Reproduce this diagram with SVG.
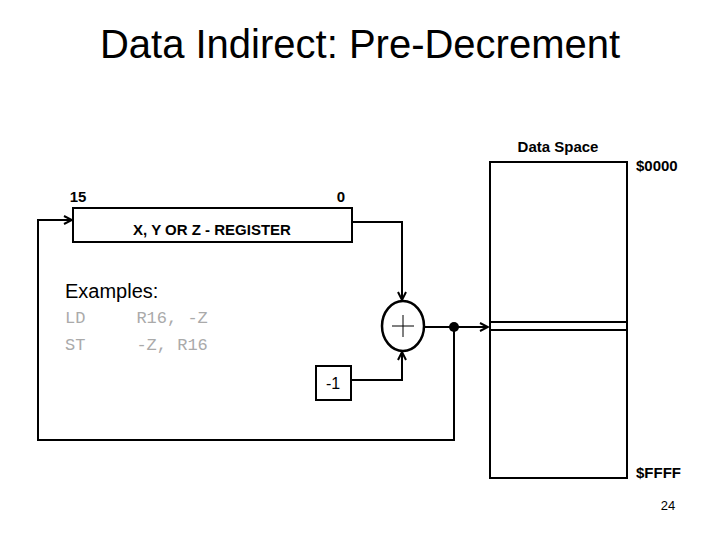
<svg xmlns="http://www.w3.org/2000/svg" width="720" height="540" viewBox="0 0 720 540">
<defs>
<style>
.t{font-family:"Liberation Sans",Arial,sans-serif;fill:#000}
.b{font-family:"Liberation Sans",Arial,sans-serif;font-weight:bold;fill:#000}
.m{font-family:"Liberation Mono","Courier New",monospace;fill:#aaa;font-size:17px;white-space:pre}
.ln{fill:none;stroke:#000;stroke-width:2}
.box{fill:#fff;stroke:#000;stroke-width:2}
</style>
<marker id="ar" viewBox="0 0 10 10" refX="9" refY="5" markerWidth="10" markerHeight="10" markerUnits="userSpaceOnUse" orient="auto">
<path d="M1,1 L9,5 L1,9" fill="none" stroke="#000" stroke-width="2"/>
</marker>
</defs>
<rect width="720" height="540" fill="#fff"/>
<text class="t" x="360" y="58" font-size="40" text-anchor="middle">Data Indirect: Pre-Decrement</text>

<g id="connectors">
<polyline class="ln" stroke-width="3" points="454,327 454,440 38,440 38,220 72,220" marker-end="url(#ar)"/>
<polyline class="ln" points="352,222 402,222 402,300" marker-end="url(#ar)"/>
<polyline class="ln" points="351,380 402,380 402,352" marker-end="url(#ar)"/>
<line class="ln" x1="424" y1="327" x2="488" y2="327" marker-end="url(#ar)"/>
<circle cx="454" cy="327" r="5" fill="#000"/>
</g>

<g id="register">
<rect class="box" x="73" y="208" width="279" height="34"/>
<text class="b" x="212" y="235" font-size="15" text-anchor="middle">X, Y OR Z - REGISTER</text>
<text class="b" x="78" y="202" font-size="15" text-anchor="middle">15</text>
<text class="b" x="341" y="202" font-size="15" text-anchor="middle">0</text>
</g>

<g id="adder">
<ellipse cx="403" cy="326" rx="21" ry="25" fill="#fff" stroke="#000" stroke-width="2.5"/>
<line x1="392" y1="326" x2="414" y2="326" stroke="#000" stroke-width="1"/>
<line x1="403" y1="315" x2="403" y2="337" stroke="#000" stroke-width="1"/>
</g>

<g id="minus1">
<rect class="box" x="316" y="366" width="35" height="34"/>
<text class="t" x="333" y="389" font-size="16" text-anchor="middle">-1</text>
</g>

<g id="dataspace">
<rect class="box" x="490" y="162" width="137" height="316"/>
<line x1="490" y1="322" x2="627" y2="322" stroke="#000" stroke-width="2"/>
<line x1="490" y1="330" x2="627" y2="330" stroke="#000" stroke-width="2"/>
<text class="b" x="558" y="152" font-size="15" text-anchor="middle">Data Space</text>
<text class="b" x="636" y="171" font-size="15">$0000</text>
<text class="b" x="636" y="478" font-size="15">$FFFF</text>
</g>

<g id="examples">
<text class="t" x="65" y="298" font-size="20" fill="#222">Examples:</text>
<text class="m" x="65" y="323">LD     R16, -Z</text>
<text class="m" x="65" y="350">ST     -Z, R16</text>
</g>

<text class="t" x="668" y="510" font-size="13" text-anchor="middle">24</text>
</svg>
